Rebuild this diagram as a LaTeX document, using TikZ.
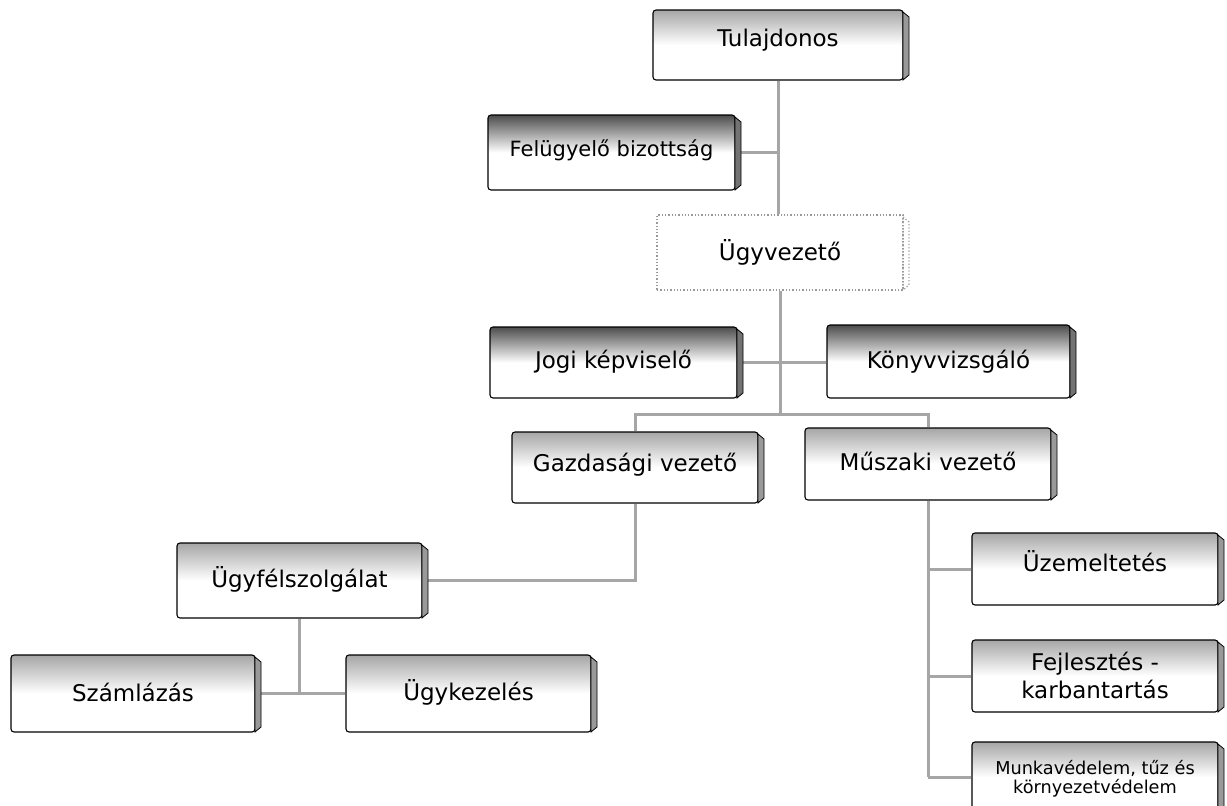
\documentclass[tikz,border=0pt]{standalone}
\usepackage{fontspec}
\setmainfont{DejaVu Sans}
\usetikzlibrary{calc}
\pgfdeclarelayer{background}
\pgfsetlayers{background,main}
\tikzset{
  conn/.style={draw=black!35, line width=3pt},
  facebase/.style={draw=black, line width=1.1pt, inner sep=0pt, rounded corners=3pt},
  lightface/.style={facebase, top color=black!35, bottom color=white, middle color=white},
  darkface/.style={facebase, top color=black!70, bottom color=white, middle color=white},
  plainface/.style={draw=black!40, dotted, line width=1.3pt, fill=white, inner sep=0pt},
  lightside/.style={fill=black!40, draw=black, line width=0.8pt},
  darkside/.style={fill=black!55, draw=black, line width=0.8pt},
  plainside/.style={draw=black!35, dotted, line width=1.3pt},
  lbl/.style={text=black, align=center, inner sep=0pt},
  big/.style={font=\fontsize{23}{28}\selectfont},
  mid/.style={font=\fontsize{21}{25}\selectfont},
  small/.style={font=\fontsize{17.7}{19}\selectfont},
}
% #1 name, #2 kind, #3 x1, #4 y1, #5 x2, #6 y2, #7 text offset, #8 font style, #9 text
\newcommand\orgbox[9]{%
  \node[#2face, minimum width={(#5-#3-7)*1pt}, minimum height={(#6-#4)*1pt}]
    (#1) at ({(#3+#5-7)/2},{(#4+#6)/2}) {};
  \draw[#2side] (#5-7,#4+2) -- (#5-1,#4+7) -- (#5-1,#6-5) -- (#5-7,#6) -- cycle;
  \node[lbl, #8] (#1t) at ($(#1.north)+(0,#7)$) {#9};
}
\begin{document}
\begin{tikzpicture}[x=1pt, y=-1pt]
\clip (0,0) rectangle (1227,806);
\orgbox{tul}{light}{653}{10}{910}{80}{31}{big}{Tulajdonos}
\orgbox{fel}{dark}{488}{115}{742}{190}{36}{mid}{Felügyelő bizottság}
\orgbox{ugy}{plain}{657}{215}{910}{290}{38}{big}{Ügyvezető}
\orgbox{jogi}{dark}{490}{327}{744}{398}{35}{big}{Jogi képviselő}
\orgbox{konyv}{dark}{827}{325}{1077}{398}{37}{big}{Könyvvizsgáló}
\orgbox{gazd}{light}{512}{432}{765}{503}{33}{big}{Gazdasági vezető}
\orgbox{musz}{light}{805}{428}{1058}{500}{34}{big}{Műszaki vezető}
\orgbox{ugyf}{light}{177}{543}{429}{618}{37}{big}{Ügyfélszolgálat}
\orgbox{szaml}{light}{11}{655}{262}{732}{38}{big}{Számlázás}
\orgbox{ugyk}{light}{346}{655}{598}{732}{38}{big}{Ügykezelés}
\orgbox{uzem}{light}{972}{533}{1225}{605}{29}{big}{Üzemeltetés}
\orgbox{fejl}{light}{972}{640}{1225}{712}{36}{big}{Fejlesztés -\\karbantartás}
\orgbox{munka}{light}{972}{742}{1225}{812}{37}{small}{Munkavédelem, tűz és\\környezetvédelem}
\coordinate (busL) at (640,414);
\begin{pgfonlayer}{background}
  \fill[white] (0,0) rectangle (1227,806);
  \draw[conn] (tul.south) -- (tul.south |- ugy.north);
  \draw[conn] (fel.east) -- (fel.east -| tul.south);
  \draw[conn] (ugy.south) -- (ugy.south |- busL);
  \draw[conn] (jogi.east) -- (jogi.east -| konyv.west);
  \draw[conn] (gazd.north) -- (gazd.north |- busL) -- (musz.north |- busL) -- (musz.north);
  \draw[conn] (gazd.south) |- (ugyf.east);
  \draw[conn] (ugyf.south) -- (ugyf.south |- szaml.east);
  \draw[conn] (szaml.east) -- (ugyk.west);
  \draw[conn] (musz.south) -- (musz.south |- munka.west);
  \draw[conn] (musz.south |- uzem.west) -- (uzem.west);
  \draw[conn] (musz.south |- fejl.west) -- (fejl.west);
  \draw[conn] (musz.south |- munka.west) -- (munka.west);
\end{pgfonlayer}
\end{tikzpicture}
\end{document}
